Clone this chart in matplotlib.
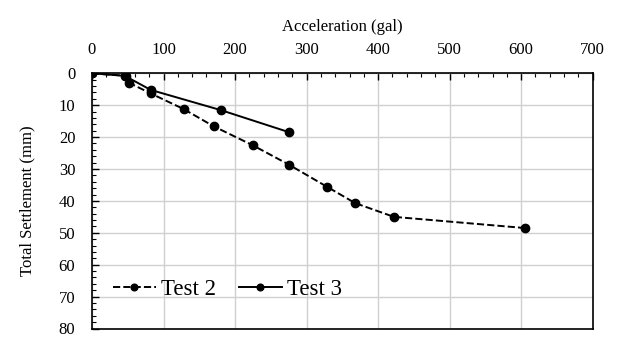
import matplotlib
matplotlib.use("Agg")
import matplotlib.pyplot as plt
from matplotlib.ticker import MultipleLocator

plt.rcParams['font.family'] = ['Liberation Serif', 'DejaVu Serif']

test2_acc = [0, 48, 52, 82, 128, 170, 225, 275, 328, 368, 422, 605]
test2_set = [0, 0.8, 3.0, 6.3, 11.2, 16.6, 22.6, 28.6, 35.5, 40.7, 45.0, 48.5]
test3_acc = [0, 46, 82, 181, 276]
test3_set = [0, 0.8, 5.2, 11.6, 18.5]

x_ticks = [0, 100, 200, 300, 400, 500, 600, 700]
y_ticks = [0, 10, 20, 30, 40, 50, 60, 70, 80]

fig = plt.figure(figsize=(6.22, 3.38), dpi=100)
ax = fig.add_axes([92/622, 1-328.5/338, (592.7-92)/622, (328.5-73.3)/338])

ax.plot(test2_acc, test2_set, color='black', linestyle='--', linewidth=1.4,
        marker='o', markersize=6, label='Test 2')
ax.plot(test3_acc, test3_set, color='black', linestyle='-', linewidth=1.4,
        marker='o', markersize=6, label='Test 3')

ax.set_xlim(0, 700)
ax.set_ylim(80, 0)
ax.set_xticks(x_ticks)
ax.set_yticks(y_ticks)
ax.xaxis.set_minor_locator(MultipleLocator(20))
ax.yaxis.set_minor_locator(MultipleLocator(2))
ax.xaxis.tick_top()
ax.xaxis.set_label_position('top')
ax.tick_params(axis='both', which='major', direction='in', length=5, width=1.0,
               labelsize=12, pad=12)
ax.tick_params(axis='x', which='major', pad=11)
ax.tick_params(axis='both', which='minor', direction='in', length=3, width=0.8)
ax.tick_params(axis='x', which='both', top=True, bottom=False)
ax.tick_params(axis='y', which='both', left=True, right=False)
ax.grid(True, which='major', color='#d0d0d0', linewidth=1.0)
ax.set_axisbelow(True)
for s in ax.spines.values():
    s.set_linewidth(1.2)

ax.set_xlabel('Acceleration (gal)', fontsize=12, labelpad=8)
ax.set_ylabel('Total Settlement (mm)', fontsize=12, labelpad=17)

ax.legend(loc='lower left', bbox_to_anchor=(0.0, 0.03), ncol=2, frameon=False,
          fontsize=16.5, handlelength=1.9, handletextpad=0.2, columnspacing=1.0,
          markerscale=0.8)

fig.savefig('out.png', dpi=100)
